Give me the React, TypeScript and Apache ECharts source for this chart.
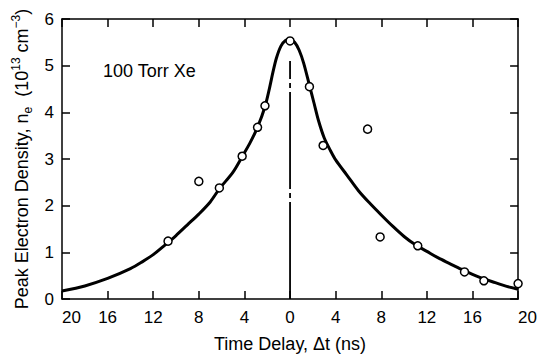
import React, { useEffect, useRef } from "react";
import * as echarts from "echarts";

// Fitted curve (time delay in ns, density in 1e13 cm^-3)
const curveX = [-20, -18, -16, -14, -13, -12, -11, -10, -9, -8, -7, -6.2, -5, -4.2, -3.5, -2.85, -2.2, -1.8, -1.5, -1.2, -0.8, -0.4, 0,
  0.4, 0.8, 1.2, 1.7, 2.1, 2.5, 3.0, 3.5, 4, 5, 6, 7, 8, 9, 10, 11, 12, 13, 14, 15, 16, 17, 18, 19, 20];
const curveY = [0.17, 0.28, 0.44, 0.65, 0.79, 0.95, 1.15, 1.36, 1.59, 1.82, 2.08, 2.36, 2.72, 3.05, 3.35, 3.68, 4.12, 4.52, 4.86, 5.16, 5.42, 5.54, 5.56,
  5.5, 5.33, 5.05, 4.58, 4.2, 3.82, 3.45, 3.2, 2.98, 2.65, 2.32, 2.05, 1.8, 1.56, 1.34, 1.16, 1.02, 0.88, 0.76, 0.64, 0.53, 0.43, 0.35, 0.27, 0.21];

// Measured points
const pointX = [-10.7, -8.0, -6.2, -4.2, -2.85, -2.2, 0, 1.7, 2.9, 6.8, 7.9, 11.2, 15.3, 17.0, 20];
const pointY = [1.24, 2.52, 2.38, 3.06, 3.68, 4.14, 5.53, 4.55, 3.29, 3.64, 1.33, 1.14, 0.58, 0.39, 0.33];

// Zero-delay marker line
const zeroLineX = [0, 0];
const zeroLineY = [0, 5.1];

const xTitle = "Time Delay, \u0394t (ns)";
const annotation = "100 Torr Xe";

const FONT = "'Liberation Sans', Arial, Helvetica, sans-serif";

export default function App() {
  const ref = useRef<HTMLDivElement>(null);
  useEffect(() => {
    if (!ref.current) return;
    const chart = echarts.init(ref.current, undefined, { renderer: "svg" });
    const axisLine = { show: true, onZero: false, lineStyle: { color: "#000", width: 1.5 } };
    const axisTick = { show: true, inside: true, length: 8, lineStyle: { color: "#000", width: 1.5 } };
    chart.setOption({
      animation: false,
      backgroundColor: "#fff",
      grid: { left: 62, right: 14, top: 19, bottom: 49 },
      graphic: [
        {
          type: "text",
          x: 103,
          y: 71,
          style: { text: annotation, fontSize: 18, fontFamily: FONT, fill: "#000", verticalAlign: "middle" },
        },
      ],
      xAxis: [
        {
          type: "value",
          min: -20,
          max: 20,
          interval: 4,
          position: "bottom",
          axisLine,
          axisTick,
          splitLine: { show: false },
          axisLabel: {
            formatter: (v: number) => String(Math.abs(v)),
            color: "#000",
            fontSize: 17,
            fontFamily: FONT,
            margin: 10,
            alignMinLabel: "left",
            alignMaxLabel: "left",
          },
          name: xTitle,
          nameLocation: "middle",
          nameGap: 36,
          nameTextStyle: { color: "#000", fontSize: 18, fontFamily: FONT },
        },
        {
          type: "value",
          min: -20,
          max: 20,
          interval: 4,
          position: "top",
          axisLine,
          axisTick,
          splitLine: { show: false },
          axisLabel: { show: false },
        },
      ],
      yAxis: [
        {
          type: "value",
          min: 0,
          max: 6,
          interval: 1,
          position: "left",
          axisLine,
          axisTick,
          splitLine: { show: false },
          axisLabel: { color: "#000", fontSize: 17, fontFamily: FONT, margin: 8 },
          name: "Peak Electron Density, n{sub|e}  (10{sup|13} cm{sup|\u22123})",
          nameLocation: "middle",
          nameGap: 28,
          nameTextStyle: {
            color: "#000",
            fontSize: 18,
            fontFamily: FONT,
            lineHeight: 24,
            rich: {
              sub: { fontSize: 12, fontFamily: FONT, color: "#000", verticalAlign: "bottom", lineHeight: 12 },
              sup: { fontSize: 12, fontFamily: FONT, color: "#000", verticalAlign: "top", lineHeight: 12 },
            },
          },
        },
        {
          type: "value",
          min: 0,
          max: 6,
          interval: 1,
          position: "right",
          axisLine,
          axisTick,
          splitLine: { show: false },
          axisLabel: { show: false },
        },
      ],
      series: [
        {
          type: "line",
          data: curveX.map((x, i) => [x, curveY[i]]),
          showSymbol: false,
          smooth: 0.3,
          lineStyle: { color: "#000", width: 3 },
          z: 2,
        },
        {
          type: "line",
          data: zeroLineX.map((x, i) => [x, zeroLineY[i]]),
          showSymbol: false,
          lineStyle: { color: "#000", width: 1.8, type: [97, 4, 5, 4] },
          z: 1,
        },
        {
          type: "scatter",
          data: pointX.map((x, i) => [x, pointY[i]]),
          symbol: "circle",
          symbolSize: 8,
          itemStyle: { color: "#fff", borderColor: "#000", borderWidth: 1.5, opacity: 1 },
          z: 5,
        },
      ],
    });
    return () => chart.dispose();
  }, []);
  return <div ref={ref} style={{ position: "fixed", left: 0, top: 0, width: 540, height: 358 }} />;
}
